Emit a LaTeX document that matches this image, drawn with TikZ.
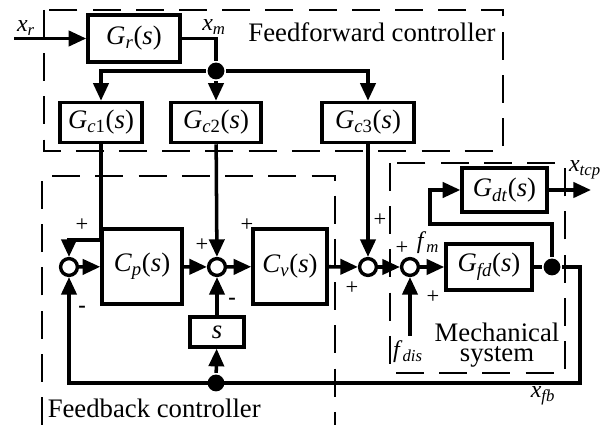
\documentclass[tikz,border=0pt]{standalone}
\usepackage{fontspec}
\setmainfont{Liberation Serif}
\usetikzlibrary{arrows.meta}
\newcommand{\blk}[2]{\textit{#1}\textsubscript{#2}(\textit{s})}
\newcommand{\sgl}[2]{\textit{#1}\textsubscript{\textit{#2}}}

\begin{document}
\begin{tikzpicture}[x=0.025cm, y=-0.025cm, line width=2.5pt,
		blkbox/.style={draw, line width=2.5pt, inner sep=0pt, font=\fontsize{19}{21}\selectfont},
		sumnode/.style={draw, circle, line width=2.4pt, minimum size=0.42cm, inner sep=0pt},
		dotnode/.style={fill, circle, minimum size=0.42cm, inner sep=0pt},
		flow/.style={-{Triangle[length=0.44cm, width=0.38cm]}},
		grp/.style={line width=1.5pt, dash pattern=on 0.7cm off 0.38cm},
		lbl/.style={font=\fontsize{19}{21}\selectfont, inner sep=0pt},
		slbl/.style={font=\fontsize{17}{17}\selectfont, inner sep=0pt},
		pm/.style={font=\fontsize{16}{16}\selectfont, inner sep=0pt}]
	\useasboundingbox (0, 0) rectangle (601, 425);

	% dashed groups
	\draw[grp] (44, 10) rectangle (503, 151);
	\draw[grp] (42, 425) -- (42, 176) -- (335, 176) -- (335, 425);
	\draw[grp] (390, 163) rectangle (565, 373);

	\node[lbl] (fftxt) at (372, 32) {Feedforward controller};
	\node[lbl, anchor=west] (fbtxt) at (46, 408) {Feedback controller};
	\node[lbl, anchor=base] (mstxt1) at (497, 342) {Mechanical};
	\node[lbl, anchor=base] (mstxt2) at (497, 362) {system};

	% blocks
	\node[blkbox, minimum width=2.3cm, minimum height=1.175cm] at (134, 38.5) (gr) {\blk{G}{\textit{r}}};
	\node[blkbox, minimum width=2.05cm, minimum height=1cm] at (101, 122.5) (gc1) {\blk{G}{\textit{c}1}};
	\node[blkbox, minimum width=2.25cm, minimum height=1cm] at (216, 122.5) (gc2) {\blk{G}{\textit{c}2}};
	\node[blkbox, minimum width=2.3cm, minimum height=1cm] at (368, 122.5) (gc3) {\blk{G}{\textit{c}3}};
	\node[blkbox, minimum width=2cm, minimum height=1.875cm] at (142, 266.5) (cp) {\blk{C}{\textit{p}}};
	\node[blkbox, minimum width=1.85cm, minimum height=1.875cm] at (290, 266.5) (cv) {\blk{C}{\textit{v}}};
	\node[blkbox, minimum width=1.35cm, minimum height=0.75cm] at (217, 332) (sb) {\textit{s}};
	\node[blkbox, minimum width=2.12cm, minimum height=1.1cm] at (504.5, 190) (gdt) {\blk{G}{\textit{dt}}};
	\node[blkbox, minimum width=2.15cm, minimum height=1.15cm] at (489, 267) (gfd) {\blk{G}{\textit{fd}}};

	% junctions
	\node[sumnode] at (69, 267) (s1) {};
	\node[sumnode] at (217, 267) (s2) {};
	\node[sumnode] at (368, 267) (s3) {};
	\node[sumnode] at (410, 267) (s4) {};
	\node[dotnode] at (216, 71) (dm) {};
	\node[dotnode] at (552, 267) (dout) {};
	\node[dotnode] at (216, 383) (dfb) {};

	\coordinate (xin) at (14, 38.5);
	\coordinate (k1) at (101, 240);
	\coordinate (k2) at (580, 267);
	\coordinate (k3) at (580, 383);
	\coordinate (k4) at (552, 224);
	\coordinate (k5) at (430, 224);
	\coordinate (xout) at (591, 190);
	\coordinate (fdin) at (410, 336);

	% feedforward path
	\draw[flow] (xin) -- (gr);
	\draw (gr) -- (gr.east -| dm) -- (dm);
	\draw[flow] (dm) -| (gc1);
	\draw[flow] (dm) -- (gc2);
	\draw[flow] (dm) -| (gc3);
	\draw[flow] (gc1) -- (k1) -| (s1);
	\draw[flow] (gc2) -- (s2);
	\draw[flow] (gc3) -- (s3);

	% main path
	\draw[flow] (s1) -- (cp);
	\draw[flow] (cp) -- (s2);
	\draw[flow] (s2) -- (cv);
	\draw[flow] (cv) -- (s3);
	\draw[flow] (s3) -- (s4);
	\draw[flow] (s4) -- (gfd);
	\draw (gfd) -- (dout);
	\draw[flow] (fdin) -- (s4);
	\draw[flow] (dout) -- (k4) -- (k5) |- (gdt);
	\draw[flow] (gdt) -- (xout);

	% feedback path
	\draw[flow] (dout) -- (k2) -- (k3) -| (s1);
	\draw[flow] (dfb) -- (sb);
	\draw[flow] (sb) -- (s2);

	% signal labels
	\node[slbl] at (26, 28) (lxr) {\sgl{x}{r}};
	\node[slbl] at (214, 27) (lxm) {\sgl{x}{m}};
	\node[slbl] at (428, 243) (lfm) {\sgl{f}{m}};
	\node[slbl] at (408, 352) (lfdis) {\sgl{f}{dis}};
	\node[slbl] at (585, 170) (lxtcp) {\sgl{x}{tcp}};
	\node[slbl] at (543, 396) (lxfb) {\sgl{x}{fb}};

	% signs
	\node[pm] at (82, 225) (p1) {+};
	\node[pm] at (82, 309) (m1) {\textbf{-}};
	\node[pm] at (202, 245) (p2) {+};
	\node[pm] at (247, 225) (p3) {+};
	\node[pm] at (232, 301) (m2) {\textbf{-}};
	\node[pm] at (380, 220) (p4) {+};
	\node[pm] at (352, 288) (p5) {+};
	\node[pm] at (402, 248) (p6) {+};
	\node[pm] at (433, 297) (p7) {+};
\end{tikzpicture}
\end{document}
